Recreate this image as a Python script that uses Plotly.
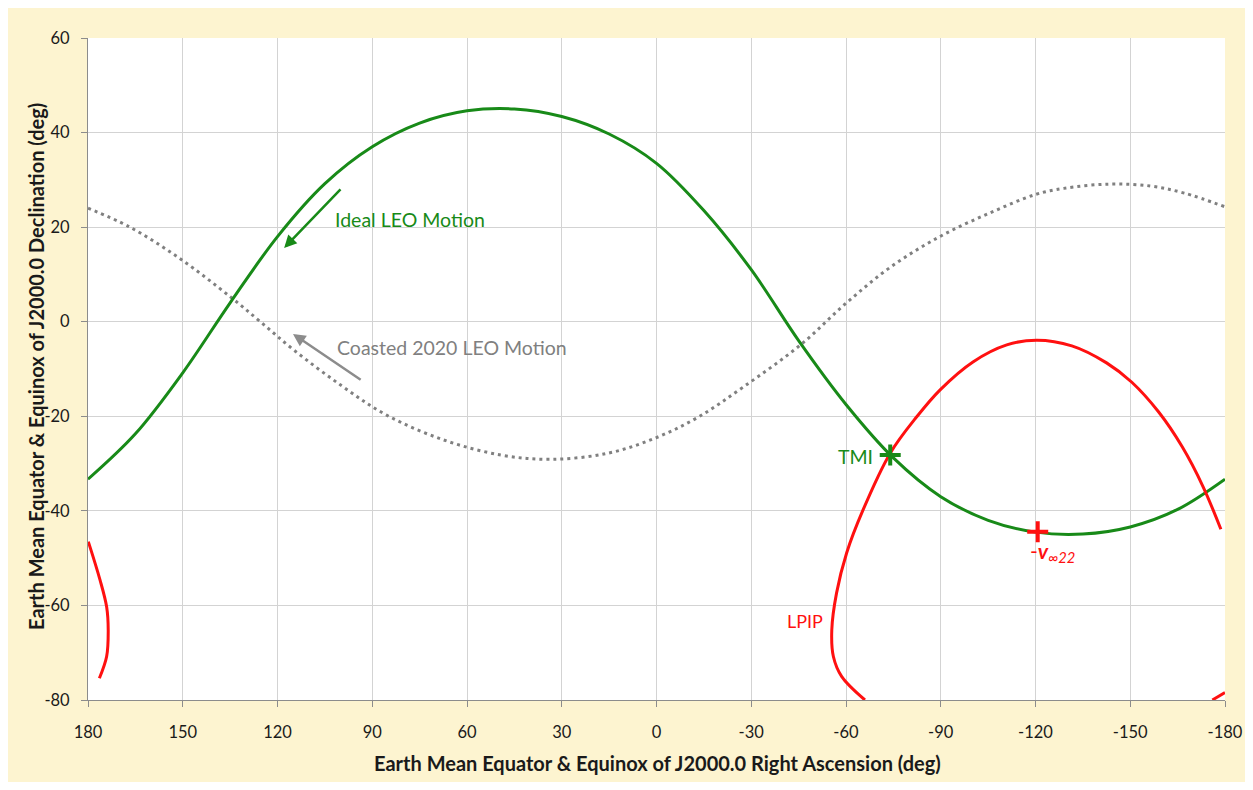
import plotly.graph_objects as go

# ---------------- data ----------------
x_tick_vals = [180, 150, 120, 90, 60, 30, 0, -30, -60, -90, -120, -150, -180]
x_tick_text = ["180", "150", "120", "90", "60", "30", "0", "-30", "-60", "-90", "-120", "-150", "-180"]
y_tick_vals = [60, 40, 20, 0, -20, -40, -60, -80]
y_tick_text = ["60", "40", "20", "0", "-20", "-40", "-60", "-80"]

ideal_ra = [180, 165, 150, 135, 120, 105, 90, 75, 60, 45, 30, 15, 0,
            -15, -30, -45, -60, -75, -90, -105, -120, -135, -150, -165, -180]
ideal_dec = [-33.3, -23.7, -10.8, 4.0, 18.0, 29.2, 37.0, 42.0, 44.6, 45.0, 43.4, 39.7, 33.5,
             23.5, 11.0, -4.0, -17.5, -28.8, -37.0, -42.0, -44.5, -44.9, -43.4, -39.7, -33.3]

coast_ra = [180, 167, 151, 135, 125.6, 115, 100, 85.6, 67.4, 49.2, 33.5, 15.3, 0,
            -13.4, -27.7, -45.6, -60, -74.2, -89.7, -105.2, -120, -129, -143.3, -156.4, -167.1, -180]
coast_dec = [24.0, 20.1, 13.4, 5.3, 0.1, -5.9, -13.4, -19.7, -25.0, -28.2, -29.1, -27.8, -24.5,
             -20.1, -13.7, -4.9, 3.9, 11.6, 18.0, 22.9, 26.9, 28.2, 29.1, 28.7, 27.2, 24.3]

lpip_main_ra = [-66.0, -58.6, -56.0, -55.5, -57.0, -60.2, -65.4, -74.0, -82.4, -89.8, -100.2,
                -110.9, -120.4, -131.5, -142.5, -150.5, -159.0, -166.5, -173.0, -178.7]
lpip_main_dec = [-80.0, -75.0, -70.8, -65.2, -57.4, -48.9, -39.8, -27.8, -20.1, -14.4, -8.5,
                 -4.9, -3.9, -5.1, -8.7, -12.8, -19.1, -26.5, -34.8, -43.9]
lpip_left_ra = [179.9, 176.2, 174.1, 173.6, 174.1, 176.4]
lpip_left_dec = [-46.5, -54.6, -60.3, -65.2, -70.8, -75.4]
lpip_corner_ra = [-176.0, -180.0]
lpip_corner_dec = [-80.0, -78.4]

tmi_ra = [-74.0]
tmi_dec = [-28.2]
vinf_ra = [-120.7]
vinf_dec = [-44.4]

GREEN = "#188A18"
RED = "#FF1010"
GRAY = "#808080"
FONT = "Lato"

fig = go.Figure()

fig.add_trace(go.Scatter(x=coast_ra, y=coast_dec, mode="lines", line_shape="spline",
                         line=dict(color=GRAY, width=3, dash="3px,4px"), hoverinfo="skip"))
fig.add_trace(go.Scatter(x=ideal_ra, y=ideal_dec, mode="lines", line_shape="spline",
                         line=dict(color=GREEN, width=3), hoverinfo="skip"))
red_x = lpip_main_ra + [None] + lpip_left_ra + [None] + lpip_corner_ra
red_y = lpip_main_dec + [None] + lpip_left_dec + [None] + lpip_corner_dec
fig.add_trace(go.Scatter(x=red_x, y=red_y, mode="lines", line_shape="spline", connectgaps=False,
                         line=dict(color=RED, width=3), hoverinfo="skip"))
fig.add_trace(go.Scatter(x=tmi_ra, y=tmi_dec, mode="markers",
                         marker=dict(symbol="cross-thin", size=15, line=dict(color=GREEN, width=4))))
fig.add_trace(go.Scatter(x=vinf_ra, y=vinf_dec, mode="markers",
                         marker=dict(symbol="cross-thin", size=15, line=dict(color=RED, width=4))))

# figure is placed at (8,8) in the page; plot area absolute x 88..1225, y 38..700
OX, OY = 8, 8
W, H = 1237, 774
L, R, T, B = 88 - OX, 1225 - OX, 38 - OY, 700 - OY
pw, ph = R - L, B - T


def px(xabs):
    return (xabs - OX - L) / pw


def py(yabs):
    return (B - (yabs - OY)) / ph


annotations = [
    dict(x=117.9, y=15.6, ax=99.6, ay=28.3, xref="x", yref="y", axref="x", ayref="y",
         showarrow=True, arrowhead=2, arrowsize=1, arrowwidth=2.5, arrowcolor=GREEN, text=""),
    dict(x=115.1, y=-2.6, ax=93.2, ay=-12.5, xref="x", yref="y", axref="x", ayref="y",
         showarrow=True, arrowhead=2, arrowsize=1, arrowwidth=2.5, arrowcolor="#8C8C8C", text=""),
    dict(x=102.4, y=21.7, xref="x", yref="y", text="Ideal LEO Motion", showarrow=False,
         xanchor="left", yanchor="middle", font=dict(family=FONT, size=19.5, color=GREEN)),
    dict(x=101.8, y=-5.4, xref="x", yref="y", text="Coasted 2020 LEO Motion", showarrow=False,
         xanchor="left", yanchor="middle", font=dict(family=FONT, size=19.5, color=GRAY)),
    dict(x=-69.2, y=-28.6, xref="x", yref="y", text="TMI", showarrow=False,
         xanchor="right", yanchor="middle", font=dict(family=FONT, size=19.5, color=GREEN)),
    dict(x=-40.7, y=-63.3, xref="x", yref="y", text="LPIP", showarrow=False,
         xanchor="left", yanchor="middle", font=dict(family=FONT, size=18, color=RED)),
    dict(x=-117.7, y=-48.7, xref="x", yref="y",
         text="-<b><i>v</i></b><sub><i>∞22</i></sub>", showarrow=False,
         xanchor="left", yanchor="middle", font=dict(family=FONT, size=21, color=RED)),
    dict(x=px(657), y=py(763), xref="paper", yref="paper", showarrow=False,
         xanchor="center", yanchor="middle",
         text="<b>Earth Mean Equator &amp; Equinox of J2000.0 Right Ascension (deg)</b>",
         font=dict(family=FONT, size=20, color="#1a1a1a")),
    dict(x=px(36), y=py(367), xref="paper", yref="paper", showarrow=False, textangle=-90,
         xanchor="center", yanchor="middle",
         text="<b>Earth Mean Equator &amp; Equinox of J2000.0 Declination (deg)</b>",
         font=dict(family=FONT, size=20, color="#1a1a1a")),
]

axis_common = dict(showgrid=True, gridcolor="#D3D3D3", gridwidth=1, showline=True,
                   linecolor="#8C8C8C", linewidth=1, ticks="outside", ticklen=6,
                   tickcolor="#8C8C8C", zeroline=False, automargin=False,
                   tickfont=dict(family=FONT, size=16.5, color="#1a1a1a"))

fig.update_layout(
    width=W, height=H, autosize=False,
    margin=dict(l=L, r=W - R, t=T, b=H - B, pad=0),
    paper_bgcolor="#FDF4D0", plot_bgcolor="white",
    showlegend=False,
    annotations=annotations,
    xaxis=dict(range=[180, -180], tickmode="array", tickvals=x_tick_vals, ticktext=x_tick_text,
               ticklabelstandoff=11, **axis_common),
    yaxis=dict(range=[-80, 60], tickmode="array", tickvals=y_tick_vals, ticktext=y_tick_text,
               ticklabelstandoff=8, **axis_common),
)

fig.write_html("out.html")
